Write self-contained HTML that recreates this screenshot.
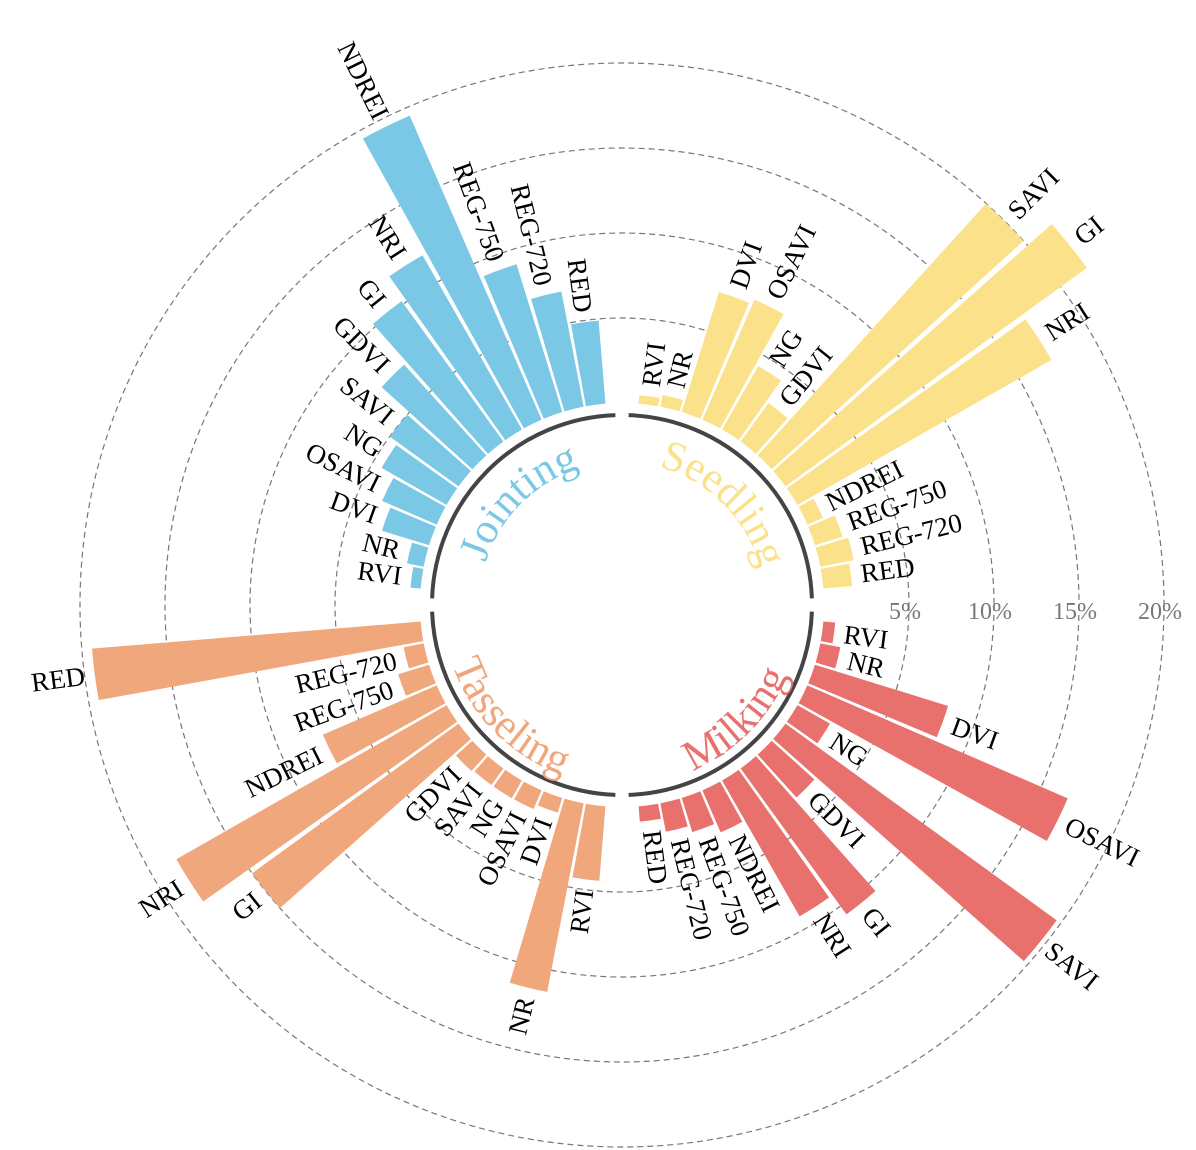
<!DOCTYPE html>
<html><head><meta charset="utf-8">
<style>
html,body{margin:0;padding:0;background:#fff;}
svg{display:block;}
</style></head>
<body>
<svg id="chart" width="1196" height="1150" viewBox="0 0 1196 1150" xmlns="http://www.w3.org/2000/svg">
<g id="grid"></g>
<g id="bars"></g>
<g id="labels"></g>
<g id="groups"></g>
</svg>
<script>
const groupNames = ["Seedling", "Milking", "Tasseling", "Jointing"];
const groupColors = ["#fbe28a", "#e8716e", "#f0a77c", "#7ac7e6"];
const seedlingCats = ["RVI","NR","DVI","OSAVI","NG","GDVI","SAVI","GI","NRI","NDREI","REG-750","REG-720","RED"];
const seedlingVals = [0.5,0.7,7.4,7.7,4.3,2.8,20.0,21.9,17.2,1.0,1.7,2.0,1.7];
const milkingCats = ["RVI","NR","DVI","OSAVI","NG","SAVI","GDVI","GI","NRI","NDREI","REG-750","REG-720","RED"];
const milkingVals = [0.7,1.2,8.2,16.7,2.2,19.7,3.4,10.6,9.2,2.7,2.1,1.7,0.9];
const tasselingCats = ["RVI","NR","DVI","OSAVI","NG","SAVI","GDVI","GI","NRI","NDREI","REG-750","REG-720","RED"];
const tasselingVals = [4.4,11.3,0.9,1.2,1.2,1.2,1.3,15.0,18.3,7.3,1.9,1.2,19.4];
const jointingCats = ["RVI","NR","DVI","OSAVI","NG","SAVI","GDVI","GI","NRI","NDREI","REG-750","REG-720","RED"];
const jointingVals = [0.6,1.0,2.9,3.5,4.4,5.0,7.2,10.2,11.8,19.5,9.1,6.9,4.9];
const tickVals = [5,10,15,20];
const tickLabels = ["5%","10%","15%","20%"];

const allCats = [seedlingCats, milkingCats, tasselingCats, jointingCats];
const allVals = [seedlingVals, milkingVals, tasselingVals, jointingVals];
const NS = "http://www.w3.org/2000/svg";
const cx = 622, cy = 605, r0 = 202, k = 17.0;
function rScale(v){ return r0 + v * k; }
function angScale(g, i){ return g * 90 + 7.5 + 6.25 * i; }
function pt(a, r){ const t = a * Math.PI / 180; return [cx + r * Math.sin(t), cy - r * Math.cos(t)]; }
function mk(tag, attrs, parent){ const e = document.createElementNS(NS, tag); for (const a in attrs) e.setAttribute(a, attrs[a]); parent.appendChild(e); return e; }

const grid = document.getElementById('grid');
tickVals.forEach((v, i) => {
  const c = mk('circle', {cx: cx, cy: cy, r: rScale(v), fill: 'none', stroke: '#777', 'stroke-width': 1.2, 'stroke-dasharray': '6,4'}, grid);
  
  
  const t = mk('text', {x: cx + rScale(v) - 4, y: 619, 'text-anchor': 'middle', fill: '#777', 'font-size': 24, 'font-family': 'Liberation Serif, serif'}, grid);
  t.textContent = tickLabels[i];
  
  
});

const bars = document.getElementById('bars');
const labels = document.getElementById('labels');
const hw = 2.8;
allVals.forEach((vals, g) => {
  vals.forEach((v, i) => {
    const a = angScale(g, i), r1 = rScale(v);
    const p1 = pt(a - hw, r0), p2 = pt(a - hw, r1), p3 = pt(a + hw, r1), p4 = pt(a + hw, r0);
    const d = `M${p1[0]},${p1[1]} L${p2[0]},${p2[1]} A${r1},${r1} 0 0 1 ${p3[0]},${p3[1]} L${p4[0]},${p4[1]} A${r0},${r0} 0 0 0 ${p1[0]},${p1[1]} Z`;
    const b = mk('path', {d: d, fill: groupColors[g]}, bars);
    
    
    const lp = pt(a, r1 + 10);
    const right = a < 180;
    const rot = right ? a - 90 : a - 270;
    const t = mk('text', {x: lp[0], y: lp[1], 'text-anchor': right ? 'start' : 'end', 'dominant-baseline': 'central',
      transform: `rotate(${rot} ${lp[0]} ${lp[1]})`, fill: '#000', 'font-size': 27, 'font-family': 'Liberation Serif, serif'}, labels);
    t.textContent = allCats[g][i];
    
    
  });
});

const groups = document.getElementById('groups');
const defs = mk('defs', {}, groups);
groupNames.forEach((name, g) => {
  const s = g * 90 + 2, e = g * 90 + 88, R = 190;
  const a1 = pt(s, R), a2 = pt(e, R);
  const arc = mk('path', {d: `M${a1[0]},${a1[1]} A${R},${R} 0 0 1 ${a2[0]},${a2[1]}`, fill: 'none', stroke: '#444', 'stroke-width': 4}, groups);
  
  
  const cw = (g === 0 || g === 3);
  const Rt = cw ? 143 : 180;
  const q1 = pt(s, Rt), q2 = pt(e, Rt);
  const id = 'tp' + g;
  const d = cw ? `M${q1[0]},${q1[1]} A${Rt},${Rt} 0 0 1 ${q2[0]},${q2[1]}` : `M${q2[0]},${q2[1]} A${Rt},${Rt} 0 0 0 ${q1[0]},${q1[1]}`;
  mk('path', {id: id, d: d, fill: 'none'}, defs);
  const t = mk('text', {fill: groupColors[g], 'font-size': 43, 'font-family': 'Liberation Serif, serif'}, groups);
  
  
  const tp = mk('textPath', {href: '#' + id, startOffset: '50%', 'text-anchor': 'middle'}, t);
  tp.textContent = name;
});
</script>
</body></html>
